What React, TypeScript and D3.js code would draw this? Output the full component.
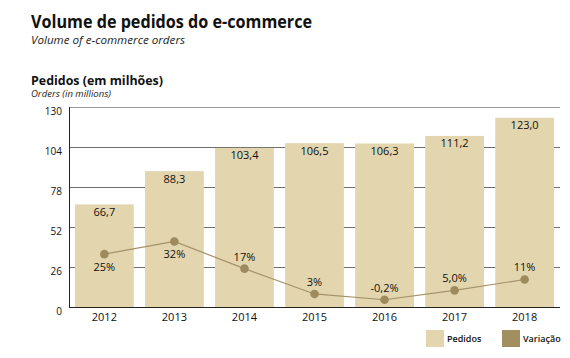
import React, { useEffect, useRef } from "react";
import * as d3 from "d3";

const years = ["2012", "2013", "2014", "2015", "2016", "2017", "2018"];
const pedidos = [66.7, 88.3, 103.4, 106.5, 106.3, 111.2, 123.0];
const variacao = [25, 32, 17, 3, -0.2, 5.0, 11];
const variacaoLabels = ["25%", "32%", "17%", "3%", "-0,2%", "5,0%", "11%"];
const labelBelow = [true, true, false, false, false, false, false];
const yTicks = [0, 26, 52, 78, 104, 130];

const BAR = "#e3d6ae";
const LINE = "#a4916a";
const DOT = "#9d8a5e";
const FONT = "'Open Sans', 'Noto Sans', sans-serif";

export default function App() {
  const ref = useRef<SVGSVGElement>(null);

  useEffect(() => {
    const svg = d3.select(ref.current);
    svg.selectAll("*").remove();

    const left = 69, right = 560, top = 107, bottom = 307;

    const x = d3.scaleBand().domain(years).range([left, right]).paddingInner(0.16).paddingOuter(0.085);
    const y = d3.scaleLinear().domain([0, 130]).range([bottom, top]);
    const y2 = d3.scaleLinear().domain([-4.2, 106.3]).range([bottom, top]);

    // titles
    svg.append("text").attr("x", 31).attr("y", 28).attr("font-family", FONT)
      .attr("font-weight", "bold").attr("font-size", 17.5).attr("fill", "#111")
      .attr("textLength", 281).attr("lengthAdjust", "spacingAndGlyphs")
      .text("Volume de pedidos do e-commerce");
    svg.append("text").attr("x", 31).attr("y", 43.5).attr("font-family", FONT)
      .attr("font-style", "italic").attr("font-size", 11.5).attr("fill", "#222")
      .attr("textLength", 154).attr("lengthAdjust", "spacingAndGlyphs")
      .text("Volume of e-commerce orders");
    svg.append("text").attr("x", 31).attr("y", 84.5).attr("font-family", FONT)
      .attr("font-weight", "bold").attr("font-size", 12).attr("fill", "#111")
      .attr("textLength", 132).attr("lengthAdjust", "spacingAndGlyphs")
      .text("Pedidos (em milhões)");
    svg.append("text").attr("x", 31).attr("y", 97).attr("font-family", FONT)
      .attr("font-style", "italic").attr("font-size", 8.5).attr("fill", "#222")
      .attr("textLength", 80).attr("lengthAdjust", "spacingAndGlyphs")
      .text("Orders (in millions)");

    // gridlines
    svg.append("g").selectAll("line").data(yTicks.filter((t) => t > 0)).enter().append("line")
      .attr("x1", left).attr("x2", right)
      .attr("y1", (d) => Math.round(y(d)) + 0.5).attr("y2", (d) => Math.round(y(d)) + 0.5)
      .attr("stroke", (d) => (d === 130 ? "#9a9a9a" : "#6e6e6e")).attr("stroke-width", 1);

    // y tick labels
    svg.append("g").selectAll("text").data(yTicks).enter().append("text")
      .attr("x", 62).attr("y", (d) => y(d) + 7.5).attr("text-anchor", "end")
      .attr("font-family", FONT).attr("font-size", 10).attr("fill", "#111")
      .text((d) => String(d));

    // bars
    svg.append("g").selectAll("rect").data(pedidos).enter().append("rect")
      .attr("x", (_, i) => x(years[i])!).attr("width", x.bandwidth())
      .attr("y", (d) => y(d)).attr("height", (d) => bottom - y(d))
      .attr("fill", BAR);

    // bar labels
    svg.append("g").selectAll("text").data(pedidos).enter().append("text")
      .attr("x", (_, i) => x(years[i])! + x.bandwidth() / 2)
      .attr("y", (d) => y(d) + 11.5).attr("text-anchor", "middle")
      .attr("font-family", FONT).attr("font-size", 11).attr("fill", "#111")
      .text((d) => d.toFixed(1).replace(".", ","));

    // axes lines
    svg.append("line").attr("x1", left + 0.5).attr("x2", left + 0.5).attr("y1", top).attr("y2", bottom)
      .attr("stroke", "#222");
    svg.append("line").attr("x1", left).attr("x2", right).attr("y1", bottom + 0.5).attr("y2", bottom + 0.5)
      .attr("stroke", "#222");

    // x labels
    svg.append("g").selectAll("text").data(years).enter().append("text")
      .attr("x", (d) => x(d)! + x.bandwidth() / 2).attr("y", 320.5).attr("text-anchor", "middle")
      .attr("font-family", FONT).attr("font-size", 11).attr("fill", "#111")
      .text((d) => d);

    // variation line
    const line = d3.line<number>()
      .x((_, i) => x(years[i])! + x.bandwidth() / 2)
      .y((d) => y2(d));
    svg.append("path").datum(variacao).attr("d", line).attr("fill", "none")
      .attr("stroke", LINE).attr("stroke-width", 1.2);
    svg.append("g").selectAll("circle").data(variacao).enter().append("circle")
      .attr("cx", (_, i) => x(years[i])! + x.bandwidth() / 2).attr("cy", (d) => y2(d))
      .attr("r", 4.3).attr("fill", DOT);
    svg.append("g").selectAll("text").data(variacao).enter().append("text")
      .attr("x", (_, i) => x(years[i])! + x.bandwidth() / 2)
      .attr("y", (d, i) => (labelBelow[i] ? y2(d) + 17 : y2(d) - 8))
      .attr("text-anchor", "middle").attr("font-family", FONT).attr("font-size", 11).attr("fill", "#111")
      .text((_, i) => variacaoLabels[i]);

    // legend
    const legend = [
      { label: "Pedidos", color: BAR, x: 426 },
      { label: "Variação", color: "#a28f5f", x: 502 },
    ];
    const lg = svg.append("g").selectAll("g").data(legend).enter().append("g");
    lg.append("rect").attr("x", (d) => d.x).attr("y", 330).attr("width", 18).attr("height", 17)
      .attr("fill", (d) => d.color);
    lg.append("text").attr("x", (d) => d.x + 21).attr("y", 342).attr("font-family", FONT)
      .attr("font-size", 9).attr("font-weight", 600).attr("fill", "#111").text((d) => d.label);
  }, []);

  return (
    <div style={{ margin: -8 }}>
      <svg ref={ref} width={570} height={358} style={{ display: "block", background: "#fff" }} />
    </div>
  );
}
